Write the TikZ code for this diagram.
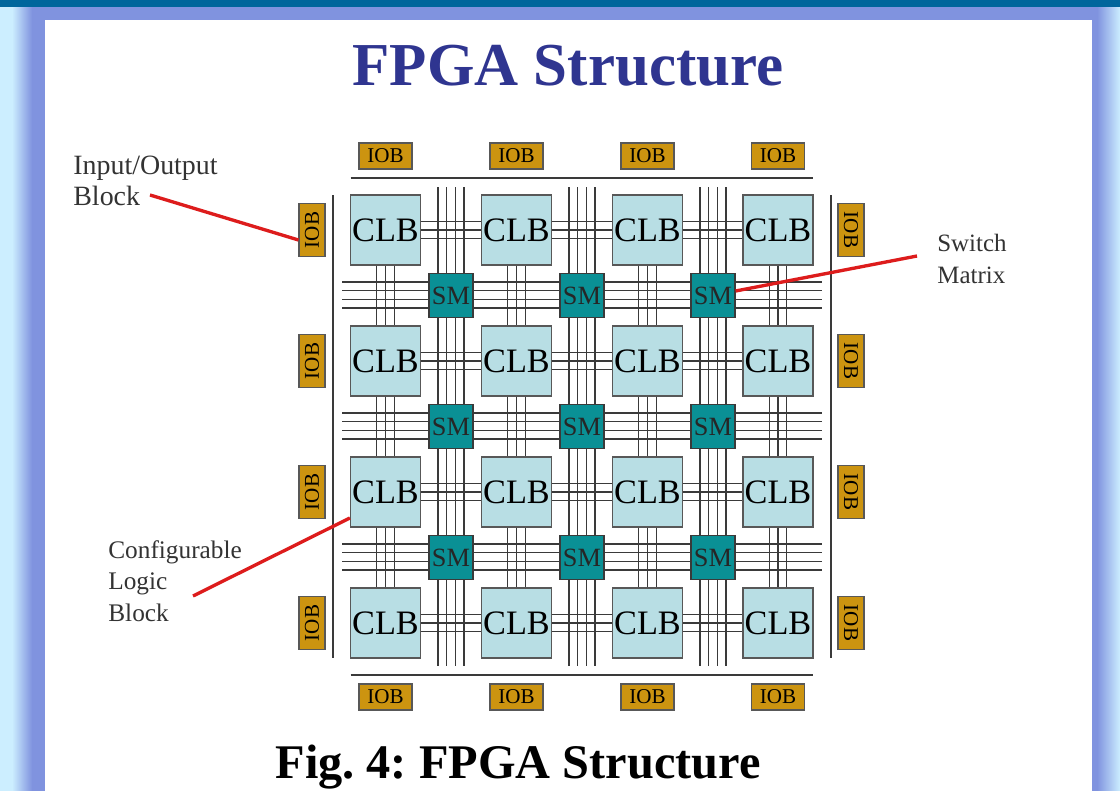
\documentclass[tikz,border=0pt]{standalone}
\usepackage{fontspec}
\setmainfont{Liberation Serif}
\definecolor{barblue}{HTML}{00669C}
\definecolor{frameblue}{HTML}{8093DF}
\definecolor{paleblue}{HTML}{CCEEFF}
\definecolor{clbfill}{HTML}{B8DEE4}
\definecolor{smfill}{HTML}{0A9095}
\definecolor{iobfill}{HTML}{CC9410}
\definecolor{titleblue}{HTML}{2F3590}
\definecolor{wire}{HTML}{3A3A3A}
\definecolor{ink}{HTML}{333333}
\definecolor{callout}{HTML}{DD1C1C}
\begin{document}
\begin{tikzpicture}[x=.02cm,y=-.02cm,
 clb/.style={draw=wire!85,line width=.7pt,fill=clbfill,minimum size=1.4cm,inner sep=0pt,text=black,font=\fontsize{19.5}{20}\selectfont},
 sm/.style={draw=wire,line width=.7pt,fill=smfill,minimum size=.88cm,inner sep=0pt,text=black!85,font=\fontsize{15}{16}\selectfont},
 iob/.style={draw=wire!85,line width=.6pt,fill=iobfill,minimum width=1.06cm,minimum height=.52cm,inner sep=0pt,text=black,font=\fontsize{12}{13}\selectfont},
 wirel/.style={wire,line width=.75pt},
 redl/.style={callout,line width=1.9pt},
 lab/.style={align=left,anchor=west,text=ink,inner sep=0pt,font=\fontsize{14.4}{18}\selectfont}]
\useasboundingbox (0,0) rectangle (1120,791);
% page background
\fill[paleblue] (0,0) rectangle (1120,791);
\fill[left color=paleblue,right color=frameblue] (12,7) rectangle (32,791);
\fill[frameblue] (32,7) rectangle (1097,20);
\fill[frameblue] (32,20) rectangle (45,791);
\fill[frameblue] (1092,20) rectangle (1097,791);
\fill[left color=frameblue,right color=paleblue] (1097,7) rectangle (1120,791);
\fill[barblue] (0,0) rectangle (1120,7);
\fill[white] (45,20) rectangle (1092,791);
\node[font=\bfseries\fontsize{34.7}{36}\selectfont,text=titleblue] (title) at (568,66) {FPGA Structure};
\node[font=\bfseries\fontsize{27.5}{30}\selectfont,text=black] (caption) at (518,767) {\frenchspacing Fig. 4: FPGA Structure};
% long tracks, under the blocks
\foreach \cx in {451,582,713}
 \foreach \d in {-13,-4.3,4.3,13}
  \draw[wirel] (\cx+\d,187) -- (\cx+\d,666);
\foreach \cy in {295,426,557}
 \foreach \d in {-13,-4.3,4.3,13}
  \draw[wirel] (342,\cy+\d) -- (822,\cy+\d);
% outer rails
\coordinate (railNw) at (350.5,178);
\coordinate (railNe) at (813,178);
\coordinate (railSw) at (350.5,675);
\coordinate (railSe) at (813,675);
\coordinate (railWt) at (333,195);
\coordinate (railWb) at (333,658);
\coordinate (railEt) at (831,195);
\coordinate (railEb) at (831,658);
\draw[wirel] (railNw) -- (railNe);
\draw[wirel] (railSw) -- (railSe);
\draw[wirel] (railWt) -- (railWb);
\draw[wirel] (railEt) -- (railEb);
% blocks
\foreach \i/\x in {1/385.5,2/516.5,3/647.5,4/778}
 \foreach \j/\y in {1/230,2/361,3/492,4/623}
  \node[clb] (clb\i\j) at (\x,\y) {CLB};
\foreach \i/\x in {1/451,2/582,3/713}
 \foreach \j/\y in {1/295.5,2/426.5,3/557.5}
  \node[sm] (sm\i\j) at (\x,\y) {SM};
% short tracks between blocks
\foreach \i/\k in {1/2,2/3,3/4}
 \foreach \j in {1,2,3,4}
  \foreach \d in {-.174,0,.174}
   \draw[wirel] ([yshift=\d cm]clb\i\j.east) -- ([yshift=\d cm]clb\k\j.west);
\foreach \i in {1,2,3,4}
 \foreach \j/\k in {1/2,2/3,3/4}
  \foreach \d in {-.174,0,.174}
   \draw[wirel] ([xshift=\d cm]clb\i\j.south) -- ([xshift=\d cm]clb\i\k.north);
% io blocks
\foreach \i/\x in {1/385.5,2/516.5,3/647.5,4/778} {
 \node[iob] (iobT\i) at (\x,156) {IOB};
 \node[iob] (iobB\i) at (\x,697) {IOB};
}
\foreach \j/\y in {1/230,2/361,3/492,4/623} {
 \node[iob,rotate=90] (iobL\j) at (312,\y) {IOB};
 \node[iob,rotate=-90] (iobR\j) at (851,\y) {IOB};
}
% callouts
\node[lab,font=\fontsize{15.9}{18}\selectfont] (labIob) at (73,181) {Input/Output\\Block};
\node[lab] (labClb) at (108,581) {Configurable\\Logic\\Block};
\node[lab,font=\fontsize{14.2}{18}\selectfont] (labSm) at (937,259) {Switch\\Matrix};
\coordinate (tailIob) at (150,195);
\coordinate (tailClb) at (193,596);
\coordinate (tailSm) at (917,256);
\draw[redl] (tailIob) -- ([yshift=-.2cm]iobL1.north);
\draw[redl] (tailClb) -- ([yshift=-.52cm]clb13.west);
\draw[redl] (tailSm) -- ([yshift=.09cm]sm31.east);
\end{tikzpicture}
\end{document}
